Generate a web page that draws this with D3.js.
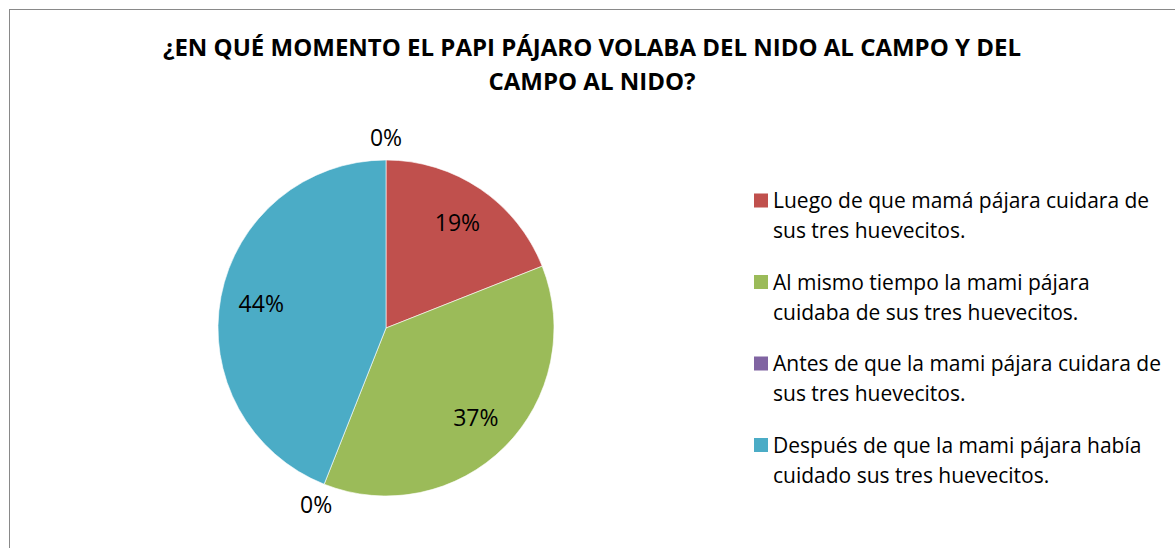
<!DOCTYPE html>
<html>
<head>
<meta charset="utf-8">
<script src="https://cdn.jsdelivr.net/npm/d3@7.9.0/dist/d3.min.js"></script>
<style>
  body { margin: 0; background: #fff; }
  svg { display: block; font-family: "Open Sans", Lato, sans-serif; }
</style>
</head>
<body>
<div id="chart"></div>
<script>
const width = 1175;
const height = 548;

// categories and values (percent); last slice has no legend entry
const categories = [
  "Luego de que mamá pájara cuidara de sus tres huevecitos.",
  "Al mismo tiempo la mami pájara cuidaba de sus tres huevecitos.",
  "Antes de que la mami pájara cuidara de sus tres huevecitos.",
  "Después de que la mami pájara había cuidado sus tres huevecitos.",
  ""
];
const values = [19, 37, 0, 44, 0];
const legendLines = [
  ["Luego de que mamá pájara cuidara de", "sus tres huevecitos."],
  ["Al mismo tiempo la mami pájara", "cuidaba de sus tres huevecitos."],
  ["Antes de que la mami pájara cuidara de", "sus tres huevecitos."],
  ["Después de que la mami pájara había", "cuidado sus tres huevecitos."]
];
const colors = ["#C0504D", "#9BBB59", "#8064A2", "#4BACC6", "#F79646"];
const titleLines = [
  "¿EN QUÉ MOMENTO EL PAPI PÁJARO VOLABA DEL NIDO AL CAMPO Y DEL",
  "CAMPO AL NIDO?"
];

const svg = d3.select("#chart")
  .append("svg")
  .attr("width", width)
  .attr("height", height);

// chart border
svg.append("rect")
  .attr("x", 9.5)
  .attr("y", 9.5)
  .attr("width", 1200)
  .attr("height", 600)
  .attr("fill", "none")
  .attr("stroke", "#898989")
  .attr("stroke-width", 1);

// title
svg.append("text")
  .attr("text-anchor", "middle")
  .attr("font-weight", "bold")
  .attr("font-size", "24px")
  .attr("fill", "#000")
  .selectAll("tspan")
  .data(titleLines)
  .join("tspan")
  .attr("x", 592)
  .attr("y", (d, i) => 56 + i * 34)
  .text(d => d);

// pie
const cx = 386, cy = 328, radius = 168;
const data = values.map((v, i) => ({ name: categories[i], value: v, color: colors[i] }));

const pie = d3.pie().value(d => d.value).sort(null);
const arc = d3.arc().innerRadius(0).outerRadius(radius);
const arcs = pie(data);

const g = svg.append("g").attr("transform", `translate(${cx},${cy})`);

g.selectAll("path")
  .data(arcs.filter(d => d.data.value > 0))
  .join("path")
  .attr("d", arc)
  .attr("fill", d => d.data.color)
  .attr("stroke", "#fff")
  .attr("stroke-width", 0.6);

const innerLabel = d3.arc().innerRadius(127).outerRadius(127);
const outerLabel = d3.arc().innerRadius(190).outerRadius(190);

g.selectAll("text.lbl")
  .data(arcs)
  .join("text")
  .attr("class", "lbl")
  .attr("transform", d => `translate(${(d.data.value > 0 ? innerLabel : outerLabel).centroid(d)})`)
  .attr("text-anchor", "middle")
  .attr("dy", "0.35em")
  .attr("font-size", "23px")
  .attr("fill", "#000")
  .text(d => d.data.value + "%");

// legend
const legend = svg.append("g");
const items = legend.selectAll("g")
  .data(legendLines)
  .join("g")
  .attr("transform", (d, i) => `translate(754, ${200 + i * 81.5})`);

items.append("rect")
  .attr("x", 0)
  .attr("y", -6.5)
  .attr("width", 14)
  .attr("height", 14)
  .attr("fill", (d, i) => colors[i]);

items.append("text")
  .attr("font-size", "21px")
  .attr("fill", "#000")
  .selectAll("tspan")
  .data(d => d)
  .join("tspan")
  .attr("x", 19)
  .attr("y", (d, i) => 8 + i * 30)
  .text(d => d);
</script>
</body>
</html>
